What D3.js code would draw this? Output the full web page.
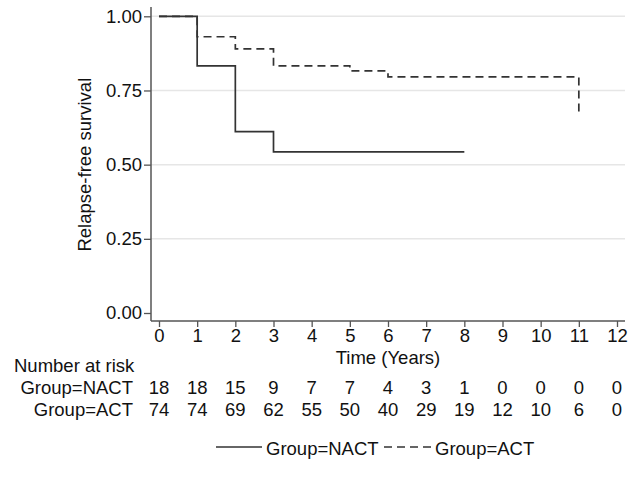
<!DOCTYPE html>
<html>
<head>
<meta charset="utf-8">
<script src="https://cdn.jsdelivr.net/npm/d3@7"></script>
<style>
  body { margin: 0; background: #fff; }
  svg text { font-family: "Liberation Sans", Arial, sans-serif; fill: #111; }
</style>
</head>
<body>
<div id="graph"></div>
<script>
// data
const years = [0, 1, 2, 3, 4, 5, 6, 7, 8, 9, 10, 11, 12];
const yTicks = [0, 0.25, 0.5, 0.75, 1];

// Kaplan-Meier steps
const nactTime = [0, 1, 2, 3, 8];
const nactSurv = [1, 0.833, 0.611, 0.543, 0.543];
const actTime = [0, 1, 2, 3, 5, 6, 11, 11];
const actSurv = [1, 0.931, 0.890, 0.833, 0.816, 0.796, 0.796, 0.678];

// number at risk
const riskGroups = ["Group=NACT", "Group=ACT"];
const riskNACT = [18, 18, 15, 9, 7, 7, 4, 3, 1, 0, 0, 0, 0];
const riskACT = [74, 74, 69, 62, 55, 50, 40, 29, 19, 12, 10, 6, 0];

const W = 637, H = 484;
const svg = d3.select("#graph").append("svg")
    .attr("width", W)
    .attr("height", H);

// scales
const x = d3.scaleLinear().domain([0, 12]).range([159, 617]);
const y = d3.scaleLinear().domain([0, 1]).range([313, 16.3]);
const axisLeftX = 151, axisRightX = 625, axisBottomY = 321;

const fontSize = 18.5;

// gridlines
svg.append("g")
    .selectAll("line")
    .data(yTicks.filter(d => d > 0))
    .enter().append("line")
    .attr("x1", axisLeftX)
    .attr("x2", axisRightX)
    .attr("y1", d => y(d))
    .attr("y2", d => y(d))
    .attr("stroke", "#e6e6e6")
    .attr("stroke-width", 1.5);

// y axis
const yAxis = svg.append("g")
    .attr("transform", "translate(" + axisLeftX + ",0)")
    .call(d3.axisLeft(y).tickValues(yTicks).tickFormat(d3.format(".2f")).tickSize(7).tickSizeOuter(0));
yAxis.select(".domain").remove();
yAxis.append("line")
    .attr("x1", 0).attr("x2", 0)
    .attr("y1", 7).attr("y2", axisBottomY)
    .attr("stroke", "#555").attr("stroke-width", 1.5);

// x axis
const xAxis = svg.append("g")
    .attr("transform", "translate(0," + axisBottomY + ")")
    .call(d3.axisBottom(x).tickValues(years).tickSize(6).tickSizeOuter(0));
xAxis.select(".domain").remove();
xAxis.append("line")
    .attr("x1", axisLeftX).attr("x2", axisRightX)
    .attr("y1", 0).attr("y2", 0)
    .attr("stroke", "#555").attr("stroke-width", 1.5);

svg.selectAll(".tick line").attr("stroke", "#555").attr("stroke-width", 1.3);
svg.selectAll(".tick text")
    .style("font-size", fontSize + "px")
    .style("font-family", "Liberation Sans, Arial, sans-serif")
    .attr("fill", "#111");
yAxis.selectAll(".tick text").attr("x", -9);
xAxis.selectAll(".tick text").attr("y", 7.5);

// axis titles
svg.append("text")
    .attr("transform", "translate(91," + y(0.5) + ") rotate(-90)")
    .attr("text-anchor", "middle")
    .style("font-size", fontSize + "px")
    .text("Relapse-free survival");

svg.append("text")
    .attr("x", x(6))
    .attr("y", 364)
    .attr("text-anchor", "middle")
    .style("font-size", fontSize + "px")
    .text("Time (Years)");

// survival curves
const line = d3.line()
    .x(d => x(d[0]))
    .y(d => y(d[1]))
    .curve(d3.curveStepAfter);

svg.append("path")
    .datum(d3.zip(nactTime, nactSurv))
    .attr("d", line)
    .attr("fill", "none")
    .attr("stroke", "#333")
    .attr("stroke-width", 1.7);

svg.append("path")
    .datum(d3.zip(actTime, actSurv))
    .attr("d", line)
    .attr("fill", "none")
    .attr("stroke", "#333")
    .attr("stroke-width", 1.7)
    .attr("stroke-dasharray", "8,5");

// number at risk table
svg.append("text")
    .attr("x", 14)
    .attr("y", 372)
    .style("font-size", fontSize + "px")
    .text("Number at risk");

const rows = [riskNACT, riskACT];
const rowY = [394, 416];
rows.forEach(function(vals, i) {
    svg.append("text")
        .attr("x", 133)
        .attr("y", rowY[i])
        .attr("text-anchor", "end")
        .style("font-size", fontSize + "px")
        .text(riskGroups[i]);
    svg.append("g").selectAll("text")
        .data(vals)
        .enter().append("text")
        .attr("x", (d, j) => x(years[j]))
        .attr("y", rowY[i])
        .attr("text-anchor", "middle")
        .style("font-size", fontSize + "px")
        .text(d => d);
});

// legend
const leg = svg.append("g");
leg.append("line")
    .attr("x1", 216).attr("x2", 262)
    .attr("y1", 447).attr("y2", 447)
    .attr("stroke", "#333").attr("stroke-width", 1.5);
leg.append("text")
    .attr("x", 266).attr("y", 455)
    .style("font-size", fontSize + "px")
    .text(riskGroups[0]);
leg.append("line")
    .attr("x1", 384).attr("x2", 432)
    .attr("y1", 447).attr("y2", 447)
    .attr("stroke", "#333").attr("stroke-width", 1.5)
    .attr("stroke-dasharray", "8,5");
leg.append("text")
    .attr("x", 435).attr("y", 455)
    .style("font-size", fontSize + "px")
    .text(riskGroups[1]);
</script>
</body>
</html>
